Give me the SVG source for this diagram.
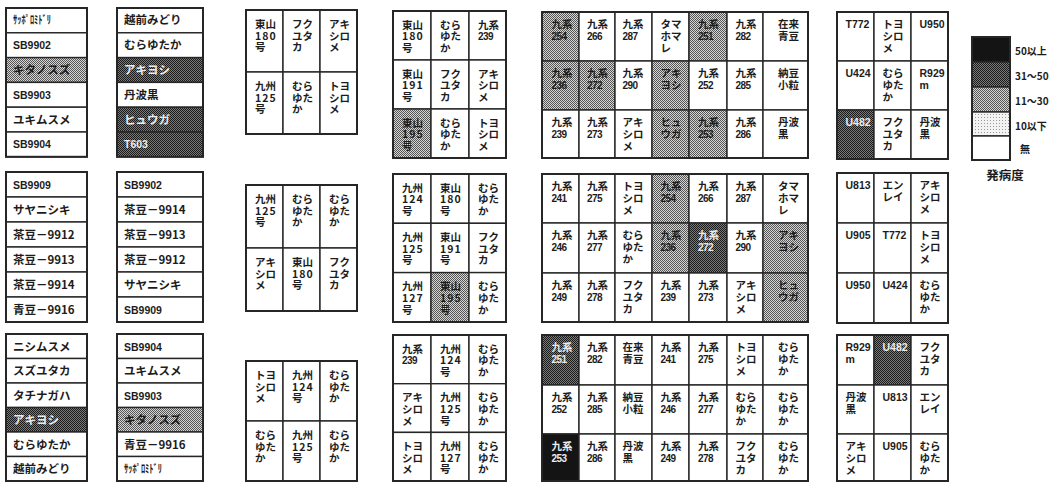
<svg xmlns="http://www.w3.org/2000/svg" width="1060" height="482" viewBox="0 0 1060 482">
<defs>
<pattern id="pm" width="2" height="2" patternUnits="userSpaceOnUse"><rect width="2" height="2" fill="#d6d6d6"/><rect width="1" height="1" fill="#555"/><rect x="1" y="1" width="1" height="1" fill="#555"/></pattern>
<pattern id="pd" width="2" height="2" patternUnits="userSpaceOnUse"><rect width="2" height="2" fill="#7a7a7a"/><rect width="1" height="1" fill="#1a1a1a"/><rect x="1" y="1" width="1" height="1" fill="#1a1a1a"/></pattern>
<pattern id="pl" width="3" height="3" patternUnits="userSpaceOnUse"><rect width="3" height="3" fill="#f3f3f3"/><rect width="1" height="1" fill="#999"/></pattern>
<style>
g rect{fill:#fff;stroke:#262626;stroke-width:1.4}
g rect.m{fill:url(#pm)}
g rect.d{fill:url(#pd)}
g rect.k{fill:#141414}
g rect.lt{fill:url(#pl)}
g rect.o{fill:none;stroke-width:2}
text{font-family:"Noto Sans CJK JP","Noto Sans CJK SC",sans-serif;font-weight:700;fill:#1c1c1c}
.l{font-size:11.5px}
.g{font-size:10.5px}
.ln{font-family:"Liberation Sans",sans-serif;font-size:10.5px}
.n{font-family:"Liberation Sans",sans-serif;font-size:10px;letter-spacing:-0.5px}
.sp{letter-spacing:1px}
text.w{fill:#ececec}
.lg{font-size:10px}
.ttl{font-size:12.5px}
</style>
</defs>

<!-- Lists, top -->
<g id="list-1a" class="l">
<rect x="6" y="8" width="81" height="24.8"/><rect x="6" y="32.8" width="81" height="24.8"/><rect class="m" x="6" y="57.6" width="81" height="24.8"/><rect x="6" y="82.4" width="81" height="24.8"/><rect x="6" y="107.2" width="81" height="24.8"/><rect x="6" y="132" width="81" height="24.8"/><rect class="o" x="6" y="8" width="81" height="148.8"/>
<text x="13" y="24.4" textLength="38" lengthAdjust="spacingAndGlyphs">ｻｯﾎﾟﾛﾐﾄﾞﾘ</text>
<text x="13" y="49.2" class="ln">SB9902</text>
<text x="13" y="74">キタノスズ</text>
<text x="13" y="98.8" class="ln">SB9903</text>
<text x="13" y="123.6">ユキムスメ</text>
<text x="13" y="148.4" class="ln">SB9904</text>
</g>
<g id="list-2a" class="l">
<rect x="117" y="8" width="86" height="24.8"/><rect x="117" y="32.8" width="86" height="24.8"/><rect class="d" x="117" y="57.6" width="86" height="24.8"/><rect x="117" y="82.4" width="86" height="24.8"/><rect class="d" x="117" y="107.2" width="86" height="24.8"/><rect class="d" x="117" y="132" width="86" height="24.8"/><rect class="o" x="117" y="8" width="86" height="148.8"/>
<text x="124" y="24.4">越前みどり</text>
<text x="124" y="49.2">むらゆたか</text>
<text x="124" y="74" class="w">アキヨシ</text>
<text x="124" y="98.8">丹波黒</text>
<text x="124" y="123.6" class="w">ヒュウガ</text>
<text x="124" y="148.4" class="ln w">T603</text>
</g>

<!-- Lists, middle -->
<g id="list-1b" class="l">
<rect x="6" y="172" width="81" height="25"/><rect x="6" y="197" width="81" height="25"/><rect x="6" y="222" width="81" height="25"/><rect x="6" y="247" width="81" height="25"/><rect x="6" y="272" width="81" height="25"/><rect x="6" y="297" width="81" height="25"/><rect class="o" x="6" y="172" width="81" height="150"/>
<text x="13" y="188.5" class="ln">SB9909</text>
<text x="13" y="213.5">サヤニシキ</text>
<text x="13" y="238.5">茶豆－9912</text>
<text x="13" y="263.5">茶豆－9913</text>
<text x="13" y="288.5">茶豆－9914</text>
<text x="13" y="313.5">青豆－9916</text>
</g>
<g id="list-2b" class="l">
<rect x="117" y="172" width="86" height="25"/><rect x="117" y="197" width="86" height="25"/><rect x="117" y="222" width="86" height="25"/><rect x="117" y="247" width="86" height="25"/><rect x="117" y="272" width="86" height="25"/><rect x="117" y="297" width="86" height="25"/><rect class="o" x="117" y="172" width="86" height="150"/>
<text x="124" y="188.5" class="ln">SB9902</text>
<text x="124" y="213.5">茶豆－9914</text>
<text x="124" y="238.5">茶豆－9913</text>
<text x="124" y="263.5">茶豆－9912</text>
<text x="124" y="288.5">サヤニシキ</text>
<text x="124" y="313.5" class="ln">SB9909</text>
</g>

<!-- Lists, bottom -->
<g id="list-1c" class="l">
<rect x="6" y="334" width="81" height="24.5"/><rect x="6" y="358.5" width="81" height="24.5"/><rect x="6" y="383" width="81" height="24.5"/><rect class="d" x="6" y="407.5" width="81" height="24.5"/><rect x="6" y="432" width="81" height="24.5"/><rect x="6" y="456.5" width="81" height="24.5"/><rect class="o" x="6" y="334" width="81" height="147"/>
<text x="13" y="350.5">ニシムスメ</text>
<text x="13" y="375">スズユタカ</text>
<text x="13" y="399.5">タチナガハ</text>
<text x="13" y="424" class="w">アキヨシ</text>
<text x="13" y="448.5">むらゆたか</text>
<text x="13" y="473">越前みどり</text>
</g>
<g id="list-2c" class="l">
<rect x="117" y="334" width="86" height="24.5"/><rect x="117" y="358.5" width="86" height="24.5"/><rect x="117" y="383" width="86" height="24.5"/><rect class="m" x="117" y="407.5" width="86" height="24.5"/><rect x="117" y="432" width="86" height="24.5"/><rect x="117" y="456.5" width="86" height="24.5"/><rect class="o" x="117" y="334" width="86" height="147"/>
<text x="124" y="350.5" class="ln">SB9904</text>
<text x="124" y="375">ユキムスメ</text>
<text x="124" y="399.5" class="ln">SB9903</text>
<text x="124" y="424">キタノスズ</text>
<text x="124" y="448.5">青豆－9916</text>
<text x="124" y="473" textLength="38" lengthAdjust="spacingAndGlyphs">ｻｯﾎﾟﾛﾐﾄﾞﾘ</text>
</g>

<!-- 3-col grid A top -->
<g id="grid-a1" class="g">
<rect x="246" y="10" width="37" height="62"/><rect x="283" y="10" width="37" height="62"/><rect x="320" y="10" width="37" height="62"/>
<rect x="246" y="72" width="37" height="62"/><rect x="283" y="72" width="37" height="62"/><rect x="320" y="72" width="37" height="62"/>
<rect class="o" x="246" y="10" width="111" height="124"/>
<text x="255" y="28"><tspan>東山</tspan><tspan x="255" dy="11.7" class="sp">180</tspan><tspan x="255" dy="11.7">号</tspan></text>
<text x="292" y="28"><tspan>フク</tspan><tspan x="292" dy="11.7">ユタ</tspan><tspan x="292" dy="11.7">カ</tspan></text>
<text x="329" y="28"><tspan>アキ</tspan><tspan x="329" dy="11.7">シロ</tspan><tspan x="329" dy="11.7">メ</tspan></text>
<text x="255" y="90"><tspan>九州</tspan><tspan x="255" dy="11.7" class="sp">125</tspan><tspan x="255" dy="11.7">号</tspan></text>
<text x="292" y="90"><tspan>むら</tspan><tspan x="292" dy="11.7">ゆた</tspan><tspan x="292" dy="11.7">か</tspan></text>
<text x="329" y="90"><tspan>トヨ</tspan><tspan x="329" dy="11.7">シロ</tspan><tspan x="329" dy="11.7">メ</tspan></text>
</g>

<!-- 3-col grid B top -->
<g id="grid-b1" class="g">
<rect x="393" y="11" width="38" height="49"/><rect x="431" y="11" width="38" height="49"/><rect x="469" y="11" width="37" height="49"/>
<rect x="393" y="60" width="38" height="49"/><rect x="431" y="60" width="38" height="49"/><rect x="469" y="60" width="37" height="49"/>
<rect class="m" x="393" y="109" width="38" height="49"/><rect x="431" y="109" width="38" height="49"/><rect x="469" y="109" width="37" height="49"/>
<rect class="o" x="393" y="11" width="113" height="147"/>
<text x="402" y="28.5"><tspan>東山</tspan><tspan x="402" dy="11.7" class="sp">180</tspan><tspan x="402" dy="11.7">号</tspan></text>
<text x="440" y="28.5"><tspan>むら</tspan><tspan x="440" dy="11.7">ゆた</tspan><tspan x="440" dy="11.7">か</tspan></text>
<text x="478" y="28.5"><tspan>九系</tspan><tspan x="478" dy="11.7" class="n">239</tspan></text>
<text x="402" y="77.5"><tspan>東山</tspan><tspan x="402" dy="11.7" class="sp">191</tspan><tspan x="402" dy="11.7">号</tspan></text>
<text x="440" y="77.5"><tspan>フク</tspan><tspan x="440" dy="11.7">ユタ</tspan><tspan x="440" dy="11.7">カ</tspan></text>
<text x="478" y="77.5"><tspan>アキ</tspan><tspan x="478" dy="11.7">シロ</tspan><tspan x="478" dy="11.7">メ</tspan></text>
<text x="402" y="126.5"><tspan>東山</tspan><tspan x="402" dy="11.7" class="sp">195</tspan><tspan x="402" dy="11.7">号</tspan></text>
<text x="440" y="126.5"><tspan>むら</tspan><tspan x="440" dy="11.7">ゆた</tspan><tspan x="440" dy="11.7">か</tspan></text>
<text x="478" y="126.5"><tspan>トヨ</tspan><tspan x="478" dy="11.7">シロ</tspan><tspan x="478" dy="11.7">メ</tspan></text>
</g>

<!-- 3-col grid A middle -->
<g id="grid-a2" class="g">
<rect x="246" y="185" width="37" height="63"/><rect x="283" y="185" width="37" height="63"/><rect x="320" y="185" width="37" height="63"/>
<rect x="246" y="248" width="37" height="63"/><rect x="283" y="248" width="37" height="63"/><rect x="320" y="248" width="37" height="63"/>
<rect class="o" x="246" y="185" width="111" height="126"/>
<text x="255" y="203"><tspan>九州</tspan><tspan x="255" dy="11.7" class="sp">125</tspan><tspan x="255" dy="11.7">号</tspan></text>
<text x="292" y="203"><tspan>むら</tspan><tspan x="292" dy="11.7">ゆた</tspan><tspan x="292" dy="11.7">か</tspan></text>
<text x="329" y="203"><tspan>むら</tspan><tspan x="329" dy="11.7">ゆた</tspan><tspan x="329" dy="11.7">か</tspan></text>
<text x="255" y="266"><tspan>アキ</tspan><tspan x="255" dy="11.7">シロ</tspan><tspan x="255" dy="11.7">メ</tspan></text>
<text x="292" y="266"><tspan>東山</tspan><tspan x="292" dy="11.7" class="sp">180</tspan><tspan x="292" dy="11.7">号</tspan></text>
<text x="329" y="266"><tspan>フク</tspan><tspan x="329" dy="11.7">ユタ</tspan><tspan x="329" dy="11.7">カ</tspan></text>
</g>

<!-- 3-col grid B middle -->
<g id="grid-b2" class="g">
<rect x="393" y="174" width="38" height="49.3"/><rect x="431" y="174" width="38" height="49.3"/><rect x="469" y="174" width="37" height="49.3"/>
<rect x="393" y="223.3" width="38" height="49.3"/><rect x="431" y="223.3" width="38" height="49.3"/><rect x="469" y="223.3" width="37" height="49.3"/>
<rect x="393" y="272.6" width="38" height="49.4"/><rect class="m" x="431" y="272.6" width="38" height="49.4"/><rect x="469" y="272.6" width="37" height="49.4"/>
<rect class="o" x="393" y="174" width="113" height="148"/>
<text x="402" y="191.5"><tspan>九州</tspan><tspan x="402" dy="11.7" class="sp">124</tspan><tspan x="402" dy="11.7">号</tspan></text>
<text x="440" y="191.5"><tspan>東山</tspan><tspan x="440" dy="11.7" class="sp">180</tspan><tspan x="440" dy="11.7">号</tspan></text>
<text x="478" y="191.5"><tspan>むら</tspan><tspan x="478" dy="11.7">ゆた</tspan><tspan x="478" dy="11.7">か</tspan></text>
<text x="402" y="240.8"><tspan>九州</tspan><tspan x="402" dy="11.7" class="sp">125</tspan><tspan x="402" dy="11.7">号</tspan></text>
<text x="440" y="240.8"><tspan>東山</tspan><tspan x="440" dy="11.7" class="sp">191</tspan><tspan x="440" dy="11.7">号</tspan></text>
<text x="478" y="240.8"><tspan>フク</tspan><tspan x="478" dy="11.7">ユタ</tspan><tspan x="478" dy="11.7">カ</tspan></text>
<text x="402" y="290.1"><tspan>九州</tspan><tspan x="402" dy="11.7" class="sp">127</tspan><tspan x="402" dy="11.7">号</tspan></text>
<text x="440" y="290.1"><tspan>東山</tspan><tspan x="440" dy="11.7" class="sp">195</tspan><tspan x="440" dy="11.7">号</tspan></text>
<text x="478" y="290.1"><tspan>むら</tspan><tspan x="478" dy="11.7">ゆた</tspan><tspan x="478" dy="11.7">か</tspan></text>
</g>

<!-- 3-col grid A bottom -->
<g id="grid-a3" class="g">
<rect x="246" y="361" width="37" height="60"/><rect x="283" y="361" width="37" height="60"/><rect x="320" y="361" width="37" height="60"/>
<rect x="246" y="421" width="37" height="60"/><rect x="283" y="421" width="37" height="60"/><rect x="320" y="421" width="37" height="60"/>
<rect class="o" x="246" y="361" width="111" height="120"/>
<text x="255" y="379"><tspan>トヨ</tspan><tspan x="255" dy="11.7">シロ</tspan><tspan x="255" dy="11.7">メ</tspan></text>
<text x="292" y="379"><tspan>九州</tspan><tspan x="292" dy="11.7" class="sp">124</tspan><tspan x="292" dy="11.7">号</tspan></text>
<text x="329" y="379"><tspan>むら</tspan><tspan x="329" dy="11.7">ゆた</tspan><tspan x="329" dy="11.7">か</tspan></text>
<text x="255" y="439"><tspan>むら</tspan><tspan x="255" dy="11.7">ゆた</tspan><tspan x="255" dy="11.7">か</tspan></text>
<text x="292" y="439"><tspan>九州</tspan><tspan x="292" dy="11.7" class="sp">125</tspan><tspan x="292" dy="11.7">号</tspan></text>
<text x="329" y="439"><tspan>むら</tspan><tspan x="329" dy="11.7">ゆた</tspan><tspan x="329" dy="11.7">か</tspan></text>
</g>

<!-- 3-col grid B bottom -->
<g id="grid-b3" class="g">
<rect x="393" y="335" width="38" height="48.7"/><rect x="431" y="335" width="38" height="48.7"/><rect x="469" y="335" width="37" height="48.7"/>
<rect x="393" y="383.7" width="38" height="48.7"/><rect x="431" y="383.7" width="38" height="48.7"/><rect x="469" y="383.7" width="37" height="48.7"/>
<rect x="393" y="432.4" width="38" height="48.6"/><rect x="431" y="432.4" width="38" height="48.6"/><rect x="469" y="432.4" width="37" height="48.6"/>
<rect class="o" x="393" y="335" width="113" height="146"/>
<text x="402" y="352.5"><tspan>九系</tspan><tspan x="402" dy="11.7" class="n">239</tspan></text>
<text x="440" y="352.5"><tspan>九州</tspan><tspan x="440" dy="11.7" class="sp">124</tspan><tspan x="440" dy="11.7">号</tspan></text>
<text x="478" y="352.5"><tspan>むら</tspan><tspan x="478" dy="11.7">ゆた</tspan><tspan x="478" dy="11.7">か</tspan></text>
<text x="402" y="401.2"><tspan>アキ</tspan><tspan x="402" dy="11.7">シロ</tspan><tspan x="402" dy="11.7">メ</tspan></text>
<text x="440" y="401.2"><tspan>九州</tspan><tspan x="440" dy="11.7" class="sp">125</tspan><tspan x="440" dy="11.7">号</tspan></text>
<text x="478" y="401.2"><tspan>むら</tspan><tspan x="478" dy="11.7">ゆた</tspan><tspan x="478" dy="11.7">か</tspan></text>
<text x="402" y="449.9"><tspan>トヨ</tspan><tspan x="402" dy="11.7">シロ</tspan><tspan x="402" dy="11.7">メ</tspan></text>
<text x="440" y="449.9"><tspan>九州</tspan><tspan x="440" dy="11.7" class="sp">127</tspan><tspan x="440" dy="11.7">号</tspan></text>
<text x="478" y="449.9"><tspan>むら</tspan><tspan x="478" dy="11.7">ゆた</tspan><tspan x="478" dy="11.7">か</tspan></text>
</g>

<!-- 7-col grid top -->
<g id="grid-c1" class="g">
<rect class="m" x="542" y="12" width="37" height="49"/><rect x="579" y="12" width="36" height="49"/><rect x="615" y="12" width="37" height="49"/><rect x="652" y="12" width="37" height="49"/><rect class="m" x="689" y="12" width="38" height="49"/><rect x="727" y="12" width="36" height="49"/><rect x="763" y="12" width="45" height="49"/>
<rect class="m" x="542" y="61" width="37" height="49"/><rect class="m" x="579" y="61" width="36" height="49"/><rect x="615" y="61" width="37" height="49"/><rect class="m" x="652" y="61" width="37" height="49"/><rect x="689" y="61" width="38" height="49"/><rect x="727" y="61" width="36" height="49"/><rect x="763" y="61" width="45" height="49"/>
<rect x="542" y="110" width="37" height="48"/><rect x="579" y="110" width="36" height="48"/><rect x="615" y="110" width="37" height="48"/><rect class="m" x="652" y="110" width="37" height="48"/><rect class="m" x="689" y="110" width="38" height="48"/><rect x="727" y="110" width="36" height="48"/><rect x="763" y="110" width="45" height="48"/>
<rect class="o" x="542" y="12" width="266" height="146"/>
<text x="551.5" y="28"><tspan>九系</tspan><tspan x="551.5" dy="11.8" class="n">254</tspan></text>
<text x="587" y="28"><tspan>九系</tspan><tspan x="587" dy="11.8" class="n">266</tspan></text>
<text x="622.5" y="28"><tspan>九系</tspan><tspan x="622.5" dy="11.8" class="n">287</tspan></text>
<text x="660.5" y="28"><tspan>タマ</tspan><tspan x="660.5" dy="11.8">ホマ</tspan><tspan x="660.5" dy="11.8">レ</tspan></text>
<text x="698" y="28"><tspan>九系</tspan><tspan x="698" dy="11.8" class="n">251</tspan></text>
<text x="735.5" y="28"><tspan>九系</tspan><tspan x="735.5" dy="11.8" class="n">282</tspan></text>
<text x="778" y="28"><tspan>在来</tspan><tspan x="778" dy="11.8">青豆</tspan></text>
<text x="551.5" y="77"><tspan>九系</tspan><tspan x="551.5" dy="11.8" class="n">236</tspan></text>
<text x="587" y="77"><tspan>九系</tspan><tspan x="587" dy="11.8" class="n">272</tspan></text>
<text x="622.5" y="77"><tspan>九系</tspan><tspan x="622.5" dy="11.8" class="n">290</tspan></text>
<text x="660.5" y="77"><tspan>アキ</tspan><tspan x="660.5" dy="11.8">ヨシ</tspan></text>
<text x="698" y="77"><tspan>九系</tspan><tspan x="698" dy="11.8" class="n">252</tspan></text>
<text x="735.5" y="77"><tspan>九系</tspan><tspan x="735.5" dy="11.8" class="n">285</tspan></text>
<text x="778" y="77"><tspan>納豆</tspan><tspan x="778" dy="11.8">小粒</tspan></text>
<text x="551.5" y="126"><tspan>九系</tspan><tspan x="551.5" dy="11.8" class="n">239</tspan></text>
<text x="587" y="126"><tspan>九系</tspan><tspan x="587" dy="11.8" class="n">273</tspan></text>
<text x="622.5" y="126"><tspan>アキ</tspan><tspan x="622.5" dy="11.8">シロ</tspan><tspan x="622.5" dy="11.8">メ</tspan></text>
<text x="660.5" y="126"><tspan>ヒュ</tspan><tspan x="660.5" dy="11.8">ウガ</tspan></text>
<text x="698" y="126"><tspan>九系</tspan><tspan x="698" dy="11.8" class="n">253</tspan></text>
<text x="735.5" y="126"><tspan>九系</tspan><tspan x="735.5" dy="11.8" class="n">286</tspan></text>
<text x="778" y="126"><tspan>丹波</tspan><tspan x="778" dy="11.8">黒</tspan></text>
</g>

<!-- 7-col grid middle -->
<g id="grid-c2" class="g">
<rect x="542" y="174" width="37" height="49"/><rect x="579" y="174" width="36" height="49"/><rect x="615" y="174" width="37" height="49"/><rect class="m" x="652" y="174" width="37" height="49"/><rect x="689" y="174" width="38" height="49"/><rect x="727" y="174" width="36" height="49"/><rect x="763" y="174" width="45" height="49"/>
<rect x="542" y="223" width="37" height="50"/><rect x="579" y="223" width="36" height="50"/><rect x="615" y="223" width="37" height="50"/><rect class="m" x="652" y="223" width="37" height="50"/><rect class="d" x="689" y="223" width="38" height="50"/><rect x="727" y="223" width="36" height="50"/><rect class="m" x="763" y="223" width="45" height="50"/>
<rect x="542" y="273" width="37" height="49"/><rect x="579" y="273" width="36" height="49"/><rect x="615" y="273" width="37" height="49"/><rect x="652" y="273" width="37" height="49"/><rect x="689" y="273" width="38" height="49"/><rect x="727" y="273" width="36" height="49"/><rect class="m" x="763" y="273" width="45" height="49"/>
<rect class="o" x="542" y="174" width="266" height="148"/>
<text x="551.5" y="190"><tspan>九系</tspan><tspan x="551.5" dy="11.8" class="n">241</tspan></text>
<text x="587" y="190"><tspan>九系</tspan><tspan x="587" dy="11.8" class="n">275</tspan></text>
<text x="622.5" y="190"><tspan>トヨ</tspan><tspan x="622.5" dy="11.8">シロ</tspan><tspan x="622.5" dy="11.8">メ</tspan></text>
<text x="660.5" y="190"><tspan>九系</tspan><tspan x="660.5" dy="11.8" class="n">254</tspan></text>
<text x="698" y="190"><tspan>九系</tspan><tspan x="698" dy="11.8" class="n">266</tspan></text>
<text x="735.5" y="190"><tspan>九系</tspan><tspan x="735.5" dy="11.8" class="n">287</tspan></text>
<text x="778" y="190"><tspan>タマ</tspan><tspan x="778" dy="11.8">ホマ</tspan><tspan x="778" dy="11.8">レ</tspan></text>
<text x="551.5" y="239"><tspan>九系</tspan><tspan x="551.5" dy="11.8" class="n">246</tspan></text>
<text x="587" y="239"><tspan>九系</tspan><tspan x="587" dy="11.8" class="n">277</tspan></text>
<text x="622.5" y="239"><tspan>むら</tspan><tspan x="622.5" dy="11.8">ゆた</tspan><tspan x="622.5" dy="11.8">か</tspan></text>
<text x="660.5" y="239"><tspan>九系</tspan><tspan x="660.5" dy="11.8" class="n">236</tspan></text>
<text x="698" y="239" class="w"><tspan>九系</tspan><tspan x="698" dy="11.8" class="n">272</tspan></text>
<text x="735.5" y="239"><tspan>九系</tspan><tspan x="735.5" dy="11.8" class="n">290</tspan></text>
<text x="778" y="239"><tspan>アキ</tspan><tspan x="778" dy="11.8">ヨシ</tspan></text>
<text x="551.5" y="289"><tspan>九系</tspan><tspan x="551.5" dy="11.8" class="n">249</tspan></text>
<text x="587" y="289"><tspan>九系</tspan><tspan x="587" dy="11.8" class="n">278</tspan></text>
<text x="622.5" y="289"><tspan>フク</tspan><tspan x="622.5" dy="11.8">ユタ</tspan><tspan x="622.5" dy="11.8">カ</tspan></text>
<text x="660.5" y="289"><tspan>九系</tspan><tspan x="660.5" dy="11.8" class="n">239</tspan></text>
<text x="698" y="289"><tspan>九系</tspan><tspan x="698" dy="11.8" class="n">273</tspan></text>
<text x="735.5" y="289"><tspan>アキ</tspan><tspan x="735.5" dy="11.8">シロ</tspan><tspan x="735.5" dy="11.8">メ</tspan></text>
<text x="778" y="289"><tspan>ヒュ</tspan><tspan x="778" dy="11.8">ウガ</tspan></text>
</g>

<!-- 7-col grid bottom -->
<g id="grid-c3" class="g">
<rect class="d" x="542" y="335" width="37" height="50"/><rect x="579" y="335" width="36" height="50"/><rect x="615" y="335" width="37" height="50"/><rect x="652" y="335" width="37" height="50"/><rect x="689" y="335" width="38" height="50"/><rect x="727" y="335" width="36" height="50"/><rect x="763" y="335" width="45" height="50"/>
<rect x="542" y="385" width="37" height="49"/><rect x="579" y="385" width="36" height="49"/><rect x="615" y="385" width="37" height="49"/><rect x="652" y="385" width="37" height="49"/><rect x="689" y="385" width="38" height="49"/><rect x="727" y="385" width="36" height="49"/><rect x="763" y="385" width="45" height="49"/>
<rect class="k" x="542" y="434" width="37" height="47"/><rect x="579" y="434" width="36" height="47"/><rect x="615" y="434" width="37" height="47"/><rect x="652" y="434" width="37" height="47"/><rect x="689" y="434" width="38" height="47"/><rect x="727" y="434" width="36" height="47"/><rect x="763" y="434" width="45" height="47"/>
<rect class="o" x="542" y="335" width="266" height="146"/>
<text x="551.5" y="351" class="w"><tspan>九系</tspan><tspan x="551.5" dy="11.8" class="n">251</tspan></text>
<text x="587" y="351"><tspan>九系</tspan><tspan x="587" dy="11.8" class="n">282</tspan></text>
<text x="622.5" y="351"><tspan>在来</tspan><tspan x="622.5" dy="11.8">青豆</tspan></text>
<text x="660.5" y="351"><tspan>九系</tspan><tspan x="660.5" dy="11.8" class="n">241</tspan></text>
<text x="698" y="351"><tspan>九系</tspan><tspan x="698" dy="11.8" class="n">275</tspan></text>
<text x="735.5" y="351"><tspan>トヨ</tspan><tspan x="735.5" dy="11.8">シロ</tspan><tspan x="735.5" dy="11.8">メ</tspan></text>
<text x="778" y="351"><tspan>むら</tspan><tspan x="778" dy="11.8">ゆた</tspan><tspan x="778" dy="11.8">か</tspan></text>
<text x="551.5" y="401"><tspan>九系</tspan><tspan x="551.5" dy="11.8" class="n">252</tspan></text>
<text x="587" y="401"><tspan>九系</tspan><tspan x="587" dy="11.8" class="n">285</tspan></text>
<text x="622.5" y="401"><tspan>納豆</tspan><tspan x="622.5" dy="11.8">小粒</tspan></text>
<text x="660.5" y="401"><tspan>九系</tspan><tspan x="660.5" dy="11.8" class="n">246</tspan></text>
<text x="698" y="401"><tspan>九系</tspan><tspan x="698" dy="11.8" class="n">277</tspan></text>
<text x="735.5" y="401"><tspan>むら</tspan><tspan x="735.5" dy="11.8">ゆた</tspan><tspan x="735.5" dy="11.8">か</tspan></text>
<text x="778" y="401"><tspan>むら</tspan><tspan x="778" dy="11.8">ゆた</tspan><tspan x="778" dy="11.8">か</tspan></text>
<text x="551.5" y="450" class="w"><tspan>九系</tspan><tspan x="551.5" dy="11.8" class="n">253</tspan></text>
<text x="587" y="450"><tspan>九系</tspan><tspan x="587" dy="11.8" class="n">286</tspan></text>
<text x="622.5" y="450"><tspan>丹波</tspan><tspan x="622.5" dy="11.8">黒</tspan></text>
<text x="660.5" y="450"><tspan>九系</tspan><tspan x="660.5" dy="11.8" class="n">249</tspan></text>
<text x="698" y="450"><tspan>九系</tspan><tspan x="698" dy="11.8" class="n">278</tspan></text>
<text x="735.5" y="450"><tspan>フク</tspan><tspan x="735.5" dy="11.8">ユタ</tspan><tspan x="735.5" dy="11.8">カ</tspan></text>
<text x="778" y="450"><tspan>むら</tspan><tspan x="778" dy="11.8">ゆた</tspan><tspan x="778" dy="11.8">か</tspan></text>
</g>

<!-- Right 3x3 grids -->
<g id="grid-d1" class="g">
<rect x="837" y="12" width="37" height="49"/><rect x="874" y="12" width="37" height="49"/><rect x="911" y="12" width="37" height="49"/>
<rect x="837" y="61" width="37" height="49"/><rect x="874" y="61" width="37" height="49"/><rect x="911" y="61" width="37" height="49"/>
<rect class="d" x="837" y="110" width="37" height="49"/><rect x="874" y="110" width="37" height="49"/><rect x="911" y="110" width="37" height="49"/>
<rect class="o" x="837" y="12" width="111" height="147"/>
<text x="845.5" y="28" class="ln">T772</text>
<text x="882.5" y="28"><tspan>トヨ</tspan><tspan x="882.5" dy="11.8">シロ</tspan><tspan x="882.5" dy="11.8">メ</tspan></text>
<text x="919.5" y="28" class="ln">U950</text>
<text x="845.5" y="77" class="ln">U424</text>
<text x="882.5" y="77"><tspan>むら</tspan><tspan x="882.5" dy="11.8">ゆた</tspan><tspan x="882.5" dy="11.8">か</tspan></text>
<text x="919.5" y="77" class="ln"><tspan>R929</tspan><tspan x="919.5" dy="11.8">m</tspan></text>
<text x="845.5" y="126" class="ln w">U482</text>
<text x="882.5" y="126"><tspan>フク</tspan><tspan x="882.5" dy="11.8">ユタ</tspan><tspan x="882.5" dy="11.8">カ</tspan></text>
<text x="919.5" y="126"><tspan>丹波</tspan><tspan x="919.5" dy="11.8">黒</tspan></text>
</g>
<g id="grid-d2" class="g">
<rect x="837" y="173" width="37" height="50"/><rect x="874" y="173" width="37" height="50"/><rect x="911" y="173" width="37" height="50"/>
<rect x="837" y="223" width="37" height="50"/><rect x="874" y="223" width="37" height="50"/><rect x="911" y="223" width="37" height="50"/>
<rect x="837" y="273" width="37" height="50"/><rect x="874" y="273" width="37" height="50"/><rect x="911" y="273" width="37" height="50"/>
<rect class="o" x="837" y="173" width="111" height="150"/>
<text x="845.5" y="189" class="ln">U813</text>
<text x="882.5" y="189"><tspan>エン</tspan><tspan x="882.5" dy="11.8">レイ</tspan></text>
<text x="919.5" y="189"><tspan>アキ</tspan><tspan x="919.5" dy="11.8">シロ</tspan><tspan x="919.5" dy="11.8">メ</tspan></text>
<text x="845.5" y="239" class="ln">U905</text>
<text x="882.5" y="239" class="ln">T772</text>
<text x="919.5" y="239"><tspan>トヨ</tspan><tspan x="919.5" dy="11.8">シロ</tspan><tspan x="919.5" dy="11.8">メ</tspan></text>
<text x="845.5" y="289" class="ln">U950</text>
<text x="882.5" y="289" class="ln">U424</text>
<text x="919.5" y="289"><tspan>むら</tspan><tspan x="919.5" dy="11.8">ゆた</tspan><tspan x="919.5" dy="11.8">か</tspan></text>
</g>
<g id="grid-d3" class="g">
<rect x="837" y="335" width="37" height="50"/><rect class="d" x="874" y="335" width="37" height="50"/><rect x="911" y="335" width="37" height="50"/>
<rect x="837" y="385" width="37" height="49"/><rect x="874" y="385" width="37" height="49"/><rect x="911" y="385" width="37" height="49"/>
<rect x="837" y="434" width="37" height="47"/><rect x="874" y="434" width="37" height="47"/><rect x="911" y="434" width="37" height="47"/>
<rect class="o" x="837" y="335" width="111" height="146"/>
<text x="845.5" y="351" class="ln"><tspan>R929</tspan><tspan x="845.5" dy="11.8">m</tspan></text>
<text x="882.5" y="351" class="ln w">U482</text>
<text x="919.5" y="351"><tspan>フク</tspan><tspan x="919.5" dy="11.8">ユタ</tspan><tspan x="919.5" dy="11.8">カ</tspan></text>
<text x="845.5" y="401"><tspan>丹波</tspan><tspan x="845.5" dy="11.8">黒</tspan></text>
<text x="882.5" y="401" class="ln">U813</text>
<text x="919.5" y="401"><tspan>エン</tspan><tspan x="919.5" dy="11.8">レイ</tspan></text>
<text x="845.5" y="450"><tspan>アキ</tspan><tspan x="845.5" dy="11.8">シロ</tspan><tspan x="845.5" dy="11.8">メ</tspan></text>
<text x="882.5" y="450" class="ln">U905</text>
<text x="919.5" y="450"><tspan>むら</tspan><tspan x="919.5" dy="11.8">ゆた</tspan><tspan x="919.5" dy="11.8">か</tspan></text>
</g>

<!-- Legend -->
<g id="legend" class="lg">
<rect class="k" x="972" y="37" width="38" height="25"/>
<rect class="d" x="972" y="62" width="38" height="25"/>
<rect class="m" x="972" y="87" width="38" height="25"/>
<rect class="lt" x="972" y="112" width="38" height="24"/>
<rect x="972" y="136" width="38" height="24"/>
<rect class="o" x="972" y="37" width="38" height="123"/>
<text x="1015" y="55">50以上</text>
<text x="1015" y="80">31～50</text>
<text x="1015" y="105">11～30</text>
<text x="1015" y="130">10以下</text>
<text x="1020" y="153">無</text>
<text x="1005" y="180" class="ttl" text-anchor="middle">発病度</text>
</g>
</svg>
